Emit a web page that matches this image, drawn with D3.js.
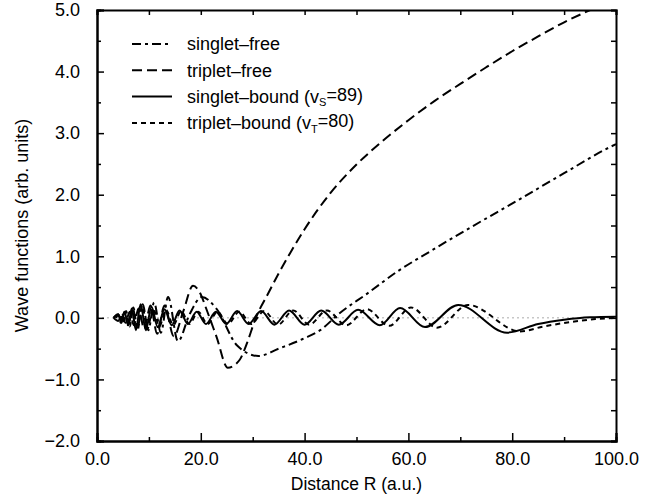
<!DOCTYPE html>
<html>
<head>
<meta charset="utf-8">
<script src="https://cdn.jsdelivr.net/npm/d3@7"></script>
<style>
  body { margin: 0; background: #fff; }
  text { font-family: "Liberation Sans", Arial, sans-serif; fill: #000; }
</style>
</head>
<body>
<div id="chart"></div>
<script>
// values: [R, psi]
const singletFree = [[3.2,0],[4.0,0.06],[4.6,-0.08],[5.3,0.1],[6.0,-0.12],[6.9,0.15],[7.8,-0.15],[8.8,0.22],[9.9,-0.2],[11.0,0.25],[12.3,-0.24],[13.7,0.34],[15.6,-0.38],[17.8,0.05],[20.2,0.34],[23,0.15],[27,-0.45],[31.1,-0.62],[35,-0.5],[40,-0.33],[43,-0.2],[46.8,0.08],[52,0.39],[58,0.76],[64,1.07],[72,1.47],[81.5,1.93],[90,2.35],[99,2.78],[100,2.82]];
const tripletFree = [[3.2,0],[4.1,-0.05],[4.8,0.07],[5.5,-0.08],[6.3,0.1],[7.1,-0.12],[8.0,0.15],[9.1,-0.18],[10.3,0.2],[11.6,-0.26],[13.0,0.2],[14.8,-0.3],[16.6,0.1],[18.5,0.52],[20,0.38],[21,0.16],[23,-0.3],[25.2,-0.81],[27.5,-0.68],[28.9,-0.41],[30.6,0],[33,0.4],[35,0.72],[37.2,1.05],[40,1.44],[45,2.03],[50,2.49],[55,2.87],[60,3.21],[65,3.52],[70,3.8],[75,4.07],[80,4.33],[85,4.57],[90,4.8],[95,5.0],[100,5.2]];
const singletBound = [[3.2,0],[4.2,0.05],[4.7,-0.08],[5.3,0.1],[6.0,-0.12],[6.7,0.15],[7.5,-0.2],[8.4,0.22],[9.4,-0.2],[10.5,0.18],[11.7,-0.15],[13.0,0.14],[14.4,-0.12],[15.9,0.12],[17.5,-0.1],[19.2,0.1],[21.0,-0.1],[22.9,0.1],[24.9,-0.1],[27.0,0.11],[29.2,-0.1],[31.6,0.11],[34.2,-0.11],[37.0,0.12],[40.0,-0.11],[43.2,0.12],[46.6,-0.11],[50.3,0.13],[54.5,-0.12],[58.4,0.16],[63.2,-0.15],[69.6,0.21],[79.0,-0.24],[85,-0.1],[90,-0.03],[95,0.01],[100,0.02]];
const tripletBound = [[3.6,0],[4.4,0.07],[5.0,-0.09],[5.6,0.11],[6.3,-0.14],[7.0,0.17],[7.8,-0.2],[8.7,0.2],[9.7,-0.18],[10.8,0.16],[12.0,-0.14],[13.3,0.13],[14.7,-0.12],[16.2,0.11],[17.8,-0.1],[19.5,0.1],[21.3,-0.1],[23.2,0.1],[25.2,-0.1],[27.4,0.1],[29.7,-0.1],[32.2,0.11],[34.9,-0.11],[37.8,0.12],[40.9,-0.11],[44.3,0.12],[48.0,-0.12],[52.0,0.14],[56.3,-0.13],[60.5,0.17],[65.5,-0.16],[71.5,0.21],[81.5,-0.22],[86,-0.14],[92,-0.06],[96,-0.02],[100,0]];

const xTicks = [0, 20, 40, 60, 80, 100];
const xMinor = [10, 30, 50, 70, 90];
const yTicks = [-2, -1, 0, 1, 2, 3, 4, 5];
const yMinor = [-1.5, -0.5, 0.5, 1.5, 2.5, 3.5, 4.5];

const series = [
    { name: "singlet–free", data: singletFree, dash: "9,4,3,4" },
    { name: "triplet–free", data: tripletFree, dash: "10,5" },
    { name: "singlet–bound", sub: "S", num: "89", data: singletBound, dash: null },
    { name: "triplet–bound", sub: "T", num: "80", data: tripletBound, dash: "5,4" }
];

const margin = { top: 10, right: 45, bottom: 54, left: 97 };
const width = 661 - margin.left - margin.right;
const height = 495 - margin.top - margin.bottom;

const svg = d3.select("#chart")
    .append("svg")
    .attr("width", 661)
    .attr("height", 495)
    .append("g")
    .attr("transform", `translate(${margin.left},${margin.top})`);

const x = d3.scaleLinear().domain([0, 100]).range([0, width]);
const y = d3.scaleLinear().domain([-2, 5]).range([height, 0]);

svg.append("clipPath").attr("id", "clip")
    .append("rect").attr("width", width).attr("height", height);

// faint zero line
svg.append("line")
    .attr("x1", x(0)).attr("x2", x(100))
    .attr("y1", y(0)).attr("y2", y(0))
    .attr("stroke", "#aaa")
    .attr("stroke-width", 1)
    .attr("stroke-dasharray", "2,3");

const line = d3.line()
    .x(d => x(d[0]))
    .y(d => y(d[1]))
    .curve(d3.curveMonotoneX);

const plot = svg.append("g").attr("clip-path", "url(#clip)");
series.forEach(s => {
    plot.append("path")
        .datum(s.data)
        .attr("fill", "none")
        .attr("stroke", "#000")
        .attr("stroke-width", 2)
        .attr("stroke-dasharray", s.dash)
        .attr("d", line);
});

// axes with inward ticks
const fmt = d => (d < 0 ? "\u2212" + Math.abs(d).toFixed(1) : d.toFixed(1));

const bottom = svg.append("g")
    .attr("transform", `translate(0,${height})`)
    .call(d3.axisBottom(x).tickValues(xTicks).tickSize(-8).tickPadding(13).tickFormat(fmt));
svg.append("g")
    .attr("transform", `translate(0,${height})`)
    .call(d3.axisBottom(x).tickValues(xMinor).tickSize(-4).tickFormat(""));

const left = svg.append("g")
    .call(d3.axisLeft(y).tickValues(yTicks).tickSize(-7).tickPadding(17).tickFormat(fmt));
svg.append("g")
    .call(d3.axisLeft(y).tickValues(yMinor).tickSize(-4).tickFormat(""));

svg.append("g")
    .call(d3.axisTop(x).tickValues(xTicks.concat(xMinor)).tickSize(-5).tickFormat(""));
svg.append("g")
    .attr("transform", `translate(${width},0)`)
    .call(d3.axisRight(y).tickValues(yTicks.concat(yMinor)).tickSize(-5).tickFormat(""));

svg.selectAll(".domain").attr("stroke", "#000").attr("stroke-width", 2);
svg.selectAll(".tick line").attr("stroke", "#000").attr("stroke-width", 1.5);
svg.selectAll(".tick text").style("font-size", "18px");
bottom.selectAll(".tick text").attr("dy", "0.6em");

// axis titles
svg.append("text")
    .attr("x", width / 2)
    .attr("y", height + 49)
    .attr("text-anchor", "middle")
    .style("font-size", "17.5px")
    .text("Distance R (a.u.)");

svg.append("text")
    .attr("transform", `translate(${-69},${height / 2}) rotate(-90)`)
    .attr("text-anchor", "middle")
    .style("font-size", "18px")
    .text("Wave functions (arb. units)");

// legend
const legend = svg.append("g").attr("transform", "translate(35,34)");
series.forEach((s, i) => {
    const row = legend.append("g").attr("transform", `translate(0,${i * 26.3})`);
    row.append("line")
        .attr("x1", 0).attr("x2", 40)
        .attr("y1", 0).attr("y2", 0)
        .attr("stroke", "#000")
        .attr("stroke-width", 2)
        .attr("stroke-dasharray", s.dash);
    const t = row.append("text")
        .attr("x", 55)
        .attr("dy", "0.35em")
        .style("font-size", "18px")
        .text(s.name);
    if (s.sub) {
        t.append("tspan").text(" (v");
        t.append("tspan").attr("dy", "0.3em").style("font-size", "11px").text(s.sub);
        t.append("tspan").attr("dy", "-0.3em").text("=" + s.num + ")");
    }
});
</script>
</body>
</html>
